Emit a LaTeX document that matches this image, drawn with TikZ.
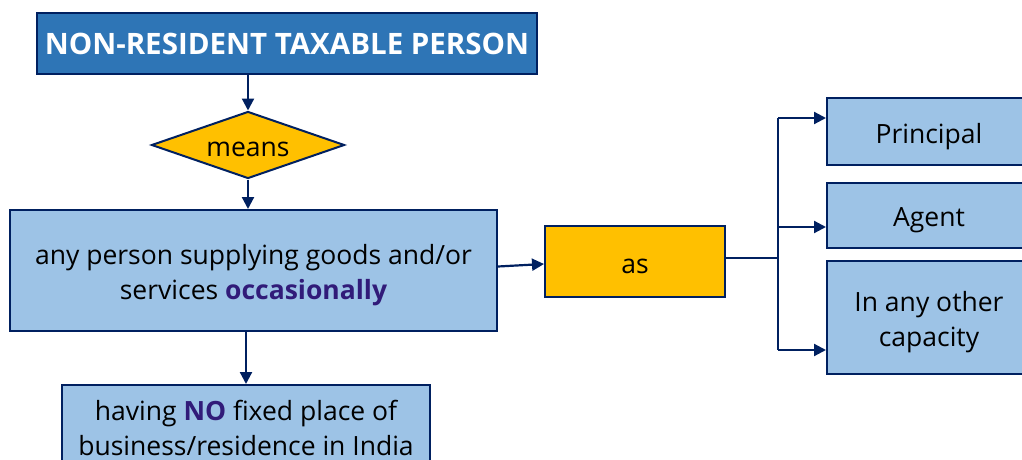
\documentclass[tikz,border=0pt]{standalone}
\usepackage{fontspec}
\setmainfont{Open Sans}
\usetikzlibrary{shapes.geometric,arrows.meta}
\definecolor{navy}{HTML}{002060}
\definecolor{titleblue}{HTML}{2E75B6}
\definecolor{boxblue}{HTML}{9DC3E6}
\definecolor{gold}{HTML}{FFC000}
\definecolor{emph}{HTML}{311B79}
\tikzset{
  box/.style={draw=navy, line width=2pt, fill=boxblue, rectangle, inner sep=0pt, align=center, font=\fontsize{26.5}{35}\selectfont, text=black},
  titlebox/.style={draw=navy, line width=2pt, fill=titleblue, rectangle, inner sep=0pt, align=center, font=\fontsize{29.5}{34}\selectfont\bfseries, text=white},
  goldbox/.style={draw=navy, line width=2pt, fill=gold, rectangle, inner sep=0pt, align=center, font=\fontsize{26.5}{35}\selectfont, text=black},
  golddiamond/.style={draw=navy, line width=2pt, fill=gold, diamond, inner sep=0pt, aspect=2.88, minimum width=193pt, minimum height=67pt, font=\fontsize{26.5}{35}\selectfont, text=black},
  lbl/.style={yshift=-5pt, align=center, inner sep=0pt, font=\fontsize{26.5}{35}\selectfont, text=black},
  arr/.style={draw=navy, line width=2.2pt, -{Triangle[length=12pt,width=12pt]}},
  ln/.style={draw=navy, line width=2.2pt}
}
\begin{document}
\begin{tikzpicture}[x=1pt,y=-1pt]
\useasboundingbox (0,0) rectangle (1022,460);
\node[titlebox, minimum width=500pt, minimum height=61pt] (title) at (287,43.5) {NON-RESIDENT TAXABLE PERSON};
\node[golddiamond, label={[lbl, yshift=1pt]center:means}] (means) at (248,145) {};
\node[box, minimum width=487pt, minimum height=121pt, label={[lbl]center:{any person supplying goods and/or\\services \textcolor{emph}{\bfseries occasionally}}}] (main) at (253.5,270.5) {};
\node[box, minimum width=368pt, minimum height=85pt] (nofix) at (246,427.5) {having \textcolor{emph}{\bfseries NO} fixed place of\\business/residence in India};
\node[goldbox, minimum width=180pt, minimum height=71pt, label={[lbl]center:as}] (as) at (635,261.5) {};
\node[box, minimum width=204pt, minimum height=67pt, label={[lbl]center:Principal}] (principal) at (929,131.5) {};
\node[box, minimum width=204pt, minimum height=65pt, label={[lbl]center:Agent}] (agent) at (929,215.5) {};
\node[box, minimum width=204pt, minimum height=113pt, label={[lbl]center:{In any other\\capacity}}] (other) at (929,317.5) {};
\coordinate (j) at (778,258);
\coordinate (jtop) at (778,118);
\coordinate (jmid) at (778,227);
\coordinate (jbot) at (778,350);
\draw[arr] (title.south -| means.north) -- (means.north);
\draw[arr] (means.south) -- (means.south |- main.north);
\draw[arr] (main.south -| nofix.north) -- (nofix.north);
\draw[arr] ([yshift=4pt]main.east) -- ([yshift=-2.5pt]as.west);
\draw[ln] (as.east |- j) -- (j);
\draw[ln] (jtop) -- (jbot);
\draw[arr] (jtop) -- (principal.west |- jtop);
\draw[arr] (jmid) -- (agent.west |- jmid);
\draw[arr] (jbot) -- (other.west |- jbot);
\end{tikzpicture}
\end{document}
